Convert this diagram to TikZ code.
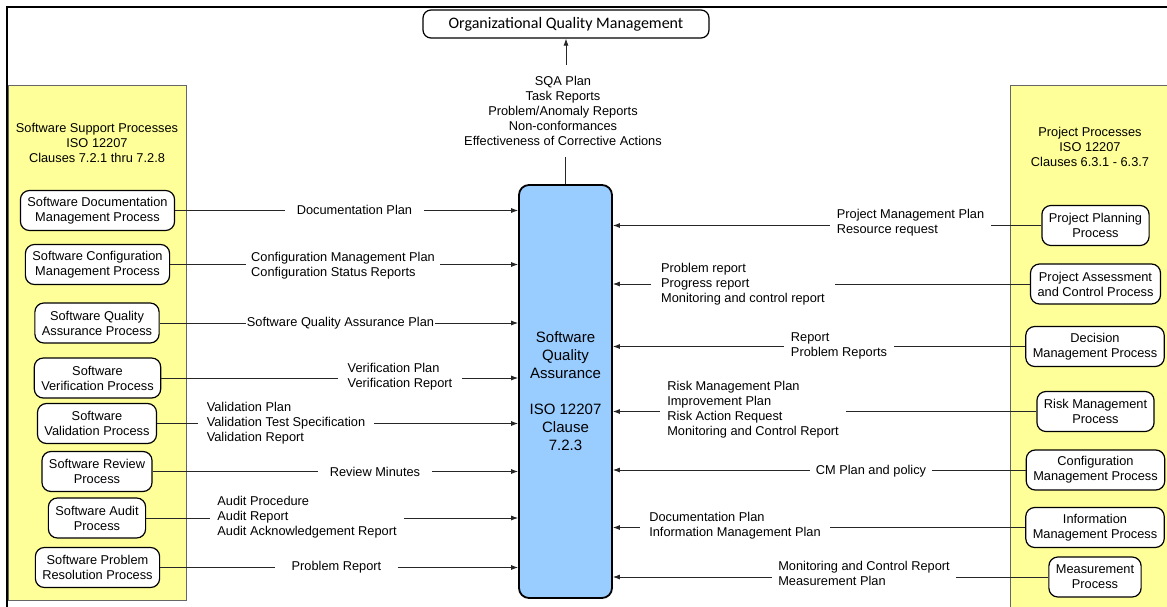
\documentclass[tikz,border=0pt]{standalone}
\usepackage{fontspec}
\setmainfont{Liberation Sans}
\newfontfamily\orgfont{Carlito}
\usetikzlibrary{arrows.meta}
\definecolor{panelyellow}{RGB}{255,255,153}
\definecolor{sqablue}{RGB}{153,204,255}
\begin{document}
\begin{tikzpicture}[x=1pt, y=-1pt,
    every node/.style={font=\fontsize{12.8}{15}\selectfont},
    proc/.style={draw, line width=1.2pt, rounded corners=9pt, fill=white, align=center, inner xsep=7pt, inner ysep=3pt, minimum height=40pt},
    lbl/.style={inner ysep=0pt},
    wire/.style={line width=0.8pt, draw=black!85},
    flow/.style={-{Latex[length=7pt, width=5pt]}}]
    \useasboundingbox(0,0)rectangle(1167,607);

    \draw[fill=panelyellow, draw=black!60, line width=0.8pt](8,85)rectangle(186,600);
    \fill[panelyellow](1010,85)rectangle(1167,607);
    \draw[black!60, line width=0.8pt](1167,85)--(1010,85)--(1010,607);
    \draw[line width=2pt](7,607)--(7,7)--(1167,7);

    \node[align=center](suphead)at(97,143){Software Support Processes\\ISO 12207\\Clauses 7.2.1 thru 7.2.8};
    \node[align=center](projhead)at(1090,147){Project Processes\\ISO 12207\\Clauses 6.3.1 - 6.3.7};

    \node[draw, line width=1.2pt, rounded corners=8pt, minimum width=286pt, minimum height=28pt, font=\orgfont\fontsize{16}{19}\selectfont](org)at(566,24){Organizational Quality Management};
    \node[draw, line width=1.8pt, rounded corners=10pt, fill=sqablue, minimum width=93pt, minimum height=413pt, align=center, font=\fontsize{15}{18}\selectfont](sqa)at(565.5,391.5){Software\\Quality\\Assurance\\[18pt]ISO 12207\\Clause\\7.2.3};
    \node[align=center, inner ysep=11pt](sqaout)at(563,111){SQA Plan\\Task Reports\\Problem/Anomaly Reports\\Non-conformances\\Effectiveness of Corrective Actions};

    \node[proc](sdoc)at(97.5,210.5){Software Documentation\\Management Process};
    \node[proc](scfg)at(97.5,264.5){Software Configuration\\Management Process};
    \node[proc](ssqa)at(97,323){Software Quality\\Assurance Process};
    \node[proc](sver)at(97.5,378){Software\\Verification Process};
    \node[proc](sval)at(97,423.5){Software\\Validation Process};
    \node[proc](srev)at(97,471.5){Software Review\\Process};
    \node[proc](saud)at(97,518){Software Audit\\Process};
    \node[proc](sprb)at(97.5,567.5){Software Problem\\Resolution Process};

    \node[proc](pplan)at(1095.5,225.5){Project Planning\\Process};
    \node[proc](passess)at(1095.5,284){Project Assessment\\and Control Process};
    \node[proc](pdec)at(1095,346.5){Decision\\Management Process};
    \node[proc](prisk)at(1095.5,411.5){Risk Management\\Process};
    \node[proc](pcm)at(1095.5,470){Configuration\\Management Process};
    \node[proc](pinfo)at(1095,527.5){Information\\Management Process};
    \node[proc](pmeas)at(1095,577){Measurement\\Process};

    \node[lbl, inner xsep=12pt](ldoc)at(354.5,210){Documentation Plan};
    \node[lbl, inner xsep=5pt, align=left](lcfg)at(343,266){Configuration Management Plan\\Configuration Status Reports};
    \node[lbl, inner xsep=0.5pt](lsqa)at(340.5,323){Software Quality Assurance Plan};
    \node[lbl, inner xsep=9.5pt, align=left](lver)at(400,377){Verification Plan\\Verification Report};
    \node[lbl, inner xsep=9pt, align=left](lval)at(286,423){Validation Plan\\Validation Test Specification\\Validation Report};
    \node[lbl, inner xsep=12pt](lrev)at(375,472){Review Minutes};
    \node[lbl, inner xsep=7pt, align=left](laud)at(307,517){Audit Procedure\\Audit Report\\Audit Acknowledgement Report};
    \node[lbl, inner xsep=16pt](lprb)at(336.5,567){Problem Report};

    \node[lbl, inner xsep=7pt, align=left](rplan)at(910.5,223){Project Management Plan\\Resource request};
    \node[lbl, inner xsep=9.5pt, align=left](rassess)at(743,284){Problem report\\Progress report\\Monitoring and control report};
    \node[lbl, inner xsep=7pt, align=left](rdec)at(839,346){Report\\Problem Reports};
    \node[lbl, inner xsep=7.5pt, align=left](rrisk)at(753,409.5){Risk Management Plan\\Improvement Plan\\Risk Action Request\\Monitoring and Control Report};
    \node[lbl, inner xsep=6pt](rcm)at(871,471){CM Plan and policy};
    \node[lbl, inner xsep=9.5pt, align=left](rinfo)at(735,525.5){Documentation Plan\\Information Management Plan};
    \node[lbl, inner xsep=6pt, align=left](rmeas)at(864,573.5){Monitoring and Control Report\\Measurement Plan};

    \draw[wire](sqa.north)--(sqa.north|-sqaout.south);
    \draw[wire, flow](org.south|-sqaout.north)--(org.south);

    \draw[wire](sdoc.east)--(sdoc.east-|ldoc.west);
    \draw[wire, flow](sdoc.east-|ldoc.east)--(sdoc.east-|sqa.west);
    \draw[wire](scfg.east)--(scfg.east-|lcfg.west);
    \draw[wire, flow](scfg.east-|lcfg.east)--(scfg.east-|sqa.west);
    \draw[wire](ssqa.east)--(ssqa.east-|lsqa.west);
    \draw[wire, flow](ssqa.east-|lsqa.east)--(ssqa.east-|sqa.west);
    \draw[wire](sver.east)--(sver.east-|lver.west);
    \draw[wire, flow](sver.east-|lver.east)--(sver.east-|sqa.west);
    \draw[wire](sval.east)--(sval.east-|lval.west);
    \draw[wire, flow](sval.east-|lval.east)--(sval.east-|sqa.west);
    \draw[wire](srev.east)--(srev.east-|lrev.west);
    \draw[wire, flow](srev.east-|lrev.east)--(srev.east-|sqa.west);
    \draw[wire](saud.east)--(saud.east-|laud.west);
    \draw[wire, flow](saud.east-|laud.east)--(saud.east-|sqa.west);
    \draw[wire](sprb.east)--(sprb.east-|lprb.west);
    \draw[wire, flow](sprb.east-|lprb.east)--(sprb.east-|sqa.west);

    \draw[wire](pplan.west)--(pplan.west-|rplan.east);
    \draw[wire, flow](pplan.west-|rplan.west)--(pplan.west-|sqa.east);
    \draw[wire](passess.west)--(passess.west-|rassess.east);
    \draw[wire, flow](passess.west-|rassess.west)--(passess.west-|sqa.east);
    \draw[wire](pdec.west)--(pdec.west-|rdec.east);
    \draw[wire, flow](pdec.west-|rdec.west)--(pdec.west-|sqa.east);
    \draw[wire](prisk.west)--(prisk.west-|rrisk.east);
    \draw[wire, flow](prisk.west-|rrisk.west)--(prisk.west-|sqa.east);
    \draw[wire](pcm.west)--(pcm.west-|rcm.east);
    \draw[wire, flow](pcm.west-|rcm.west)--(pcm.west-|sqa.east);
    \draw[wire](pinfo.west)--(pinfo.west-|rinfo.east);
    \draw[wire, flow](pinfo.west-|rinfo.west)--(pinfo.west-|sqa.east);
    \draw[wire](pmeas.west)--(pmeas.west-|rmeas.east);
    \draw[wire, flow](pmeas.west-|rmeas.west)--(pmeas.west-|sqa.east);
\end{tikzpicture}
\end{document}
